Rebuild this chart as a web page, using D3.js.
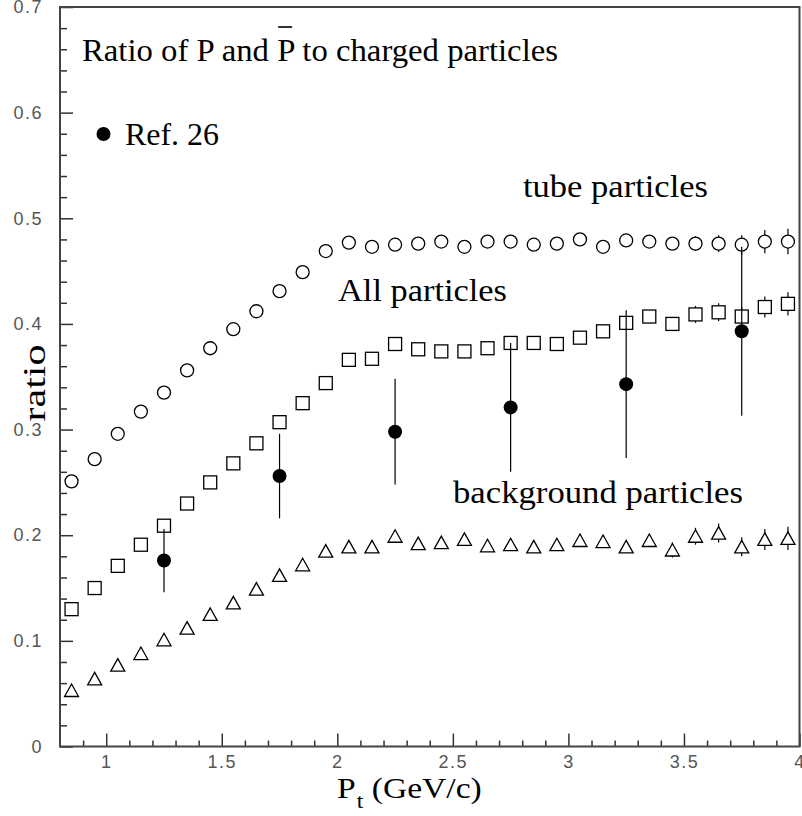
<!DOCTYPE html>
<html>
<head>
<meta charset="utf-8">
<script src="https://cdn.jsdelivr.net/npm/d3@7"></script>
<style>
  body { margin: 0; background: #fff; }
  svg { display: block; }
</style>
</head>
<body>
<div id="vis"></div>
<script>
// bin centres in Pt (GeV/c)
const ptBins = [0.85, 0.95, 1.05, 1.15, 1.25, 1.35, 1.45, 1.55, 1.65, 1.75, 1.85, 1.95,
  2.05, 2.15, 2.25, 2.35, 2.45, 2.55, 2.65, 2.75, 2.85, 2.95, 3.05, 3.15,
  3.25, 3.35, 3.45, 3.55, 3.65, 3.75, 3.85, 3.95];

// tube particles (open circles)
const tubeRatio = [0.251, 0.272, 0.296, 0.317, 0.335, 0.356, 0.377, 0.395, 0.412, 0.431, 0.449, 0.469,
  0.477, 0.473, 0.475, 0.476, 0.478, 0.473, 0.478, 0.478, 0.475, 0.476, 0.480, 0.473,
  0.479, 0.478, 0.476, 0.476, 0.476, 0.475, 0.478, 0.478];
const tubeErr = [0.002, 0.002, 0.002, 0.002, 0.002, 0.003, 0.003, 0.003, 0.003, 0.003, 0.003, 0.003,
  0.003, 0.004, 0.004, 0.004, 0.004, 0.004, 0.004, 0.005, 0.005, 0.005, 0.005, 0.005,
  0.006, 0.006, 0.006, 0.007, 0.008, 0.009, 0.011, 0.012];

// all particles (open squares)
const allRatio = [0.130, 0.150, 0.171, 0.191, 0.209, 0.230, 0.250, 0.268, 0.287, 0.307, 0.325, 0.344,
  0.366, 0.367, 0.381, 0.376, 0.374, 0.374, 0.377, 0.382, 0.382, 0.381, 0.387, 0.393,
  0.401, 0.407, 0.400, 0.409, 0.411, 0.407, 0.416, 0.419];
const allErr = [0.002, 0.002, 0.002, 0.002, 0.002, 0.002, 0.003, 0.003, 0.003, 0.003, 0.003, 0.003,
  0.003, 0.003, 0.004, 0.004, 0.004, 0.004, 0.004, 0.004, 0.005, 0.005, 0.005, 0.005,
  0.006, 0.006, 0.006, 0.008, 0.0085, 0.009, 0.010, 0.011];

// background particles (open triangles)
const bkgRatio = [0.053, 0.064, 0.077, 0.088, 0.101, 0.112, 0.125, 0.136, 0.149, 0.162, 0.172, 0.185,
  0.189, 0.189, 0.199, 0.192, 0.193, 0.196, 0.190, 0.191, 0.189, 0.191, 0.195, 0.194,
  0.189, 0.195, 0.186, 0.199, 0.202, 0.189, 0.196, 0.197];
const bkgErr = [0.001, 0.001, 0.001, 0.001, 0.002, 0.002, 0.002, 0.002, 0.002, 0.002, 0.003, 0.003,
  0.003, 0.003, 0.003, 0.003, 0.004, 0.004, 0.004, 0.004, 0.004, 0.004, 0.005, 0.005,
  0.005, 0.005, 0.007, 0.008, 0.009, 0.009, 0.010, 0.011];

// Ref. 26 (filled circles)
const refPt = [1.25, 1.75, 2.25, 2.75, 3.25, 3.75];
const refRatio = [0.176, 0.256, 0.298, 0.321, 0.343, 0.393];
const refErr = [0.030, 0.040, 0.050, 0.061, 0.070, 0.080];

const xMajor = [1, 1.5, 2, 2.5, 3, 3.5, 4];
const yMajor = [0, 0.1, 0.2, 0.3, 0.4, 0.5, 0.6, 0.7];

const W = 802, H = 816;
const plot = { left: 60, right: 799.5, top: 7, bottom: 746.5 };

const svg = d3.select('#vis').append('svg')
  .attr('width', W).attr('height', H)
  .attr('viewBox', [0, 0, W, H].join(' '));

const x = d3.scaleLinear().domain([0.8, 4]).range([plot.left, plot.right]);
const y = d3.scaleLinear().domain([0, 0.7]).range([plot.bottom, plot.top]);

const serif = '"Liberation Serif", "Times New Roman", Times, serif';
const sans = '"Liberation Sans", Arial, Helvetica, sans-serif';

// minor ticks
const xMinor = d3.range(0.9, 4.0, 0.1).filter(v => xMajor.every(m => Math.abs(m - v) > 1e-6));
const yMinor = d3.range(0.02, 0.7, 0.02).filter(v => yMajor.every(m => Math.abs(m - v) > 1e-6));

function styleAxis(g) {
  g.select('.domain').remove();
  g.selectAll('.tick line').attr('stroke', '#333').attr('stroke-width', 1.5);
  g.selectAll('.tick text')
    .attr('fill', '#555')
    .style('font-family', sans)
    .style('font-size', '18px')
    .style('letter-spacing', '1.5px');
}

svg.append('g')
  .attr('transform', `translate(0,${plot.bottom})`)
  .call(d3.axisBottom(x).tickValues(xMinor).tickSize(-6).tickSizeOuter(0).tickFormat(''))
  .call(styleAxis);
svg.append('g')
  .attr('transform', `translate(0,${plot.bottom})`)
  .call(d3.axisBottom(x).tickValues(xMajor).tickSize(-13).tickSizeOuter(0).tickPadding(9)
    .tickFormat(d3.format('')))
  .call(styleAxis);

svg.append('g')
  .attr('transform', `translate(${plot.left},0)`)
  .call(d3.axisLeft(y).tickValues(yMinor).tickSize(-7).tickSizeOuter(0).tickFormat(''))
  .call(styleAxis);
svg.append('g')
  .attr('transform', `translate(${plot.left},0)`)
  .call(d3.axisLeft(y).tickValues(yMajor).tickSize(-13).tickSizeOuter(0).tickPadding(17)
    .tickFormat(d => d === 0 ? '0' : d3.format('.1f')(d)))
  .call(styleAxis);

// frame
svg.append('rect')
  .attr('x', plot.left).attr('y', plot.top)
  .attr('width', plot.right - plot.left).attr('height', plot.bottom - plot.top)
  .attr('fill', 'none').attr('stroke', '#444').attr('stroke-width', 2);

// error bars for open markers: drawn outside the marker only
function openErrors(xs, vals, errs, half) {
  const g = svg.append('g').attr('stroke', '#000').attr('stroke-width', 1.2);
  xs.forEach((p, i) => {
    const cx = x(p), cy = y(vals[i]);
    const yHi = y(vals[i] + errs[i]), yLo = y(vals[i] - errs[i]);
    if (cy - half > yHi) g.append('line').attr('x1', cx).attr('x2', cx).attr('y1', yHi).attr('y2', cy - half);
    if (yLo > cy + half) g.append('line').attr('x1', cx).attr('x2', cx).attr('y1', cy + half).attr('y2', yLo);
  });
}

openErrors(ptBins, tubeRatio, tubeErr, 6.5);
openErrors(ptBins, allRatio, allErr, 6.5);
openErrors(ptBins, bkgRatio, bkgErr, 6);

// tube: open circles
svg.append('g').selectAll('circle')
  .data(ptBins)
  .join('circle')
  .attr('cx', d => x(d))
  .attr('cy', (d, i) => y(tubeRatio[i]))
  .attr('r', 6.5)
  .attr('fill', 'none').attr('stroke', '#000').attr('stroke-width', 1.3);

// all: open squares
svg.append('g').selectAll('rect')
  .data(ptBins)
  .join('rect')
  .attr('x', d => x(d) - 6.5)
  .attr('y', (d, i) => y(allRatio[i]) - 6.5)
  .attr('width', 13).attr('height', 13)
  .attr('fill', 'none').attr('stroke', '#000').attr('stroke-width', 1.3);

// background: open triangles
svg.append('g').selectAll('path')
  .data(ptBins)
  .join('path')
  .attr('transform', (d, i) => `translate(${x(d)},${y(bkgRatio[i])})`)
  .attr('d', 'M0,-6.5L7,6L-7,6Z')
  .attr('fill', 'none').attr('stroke', '#000').attr('stroke-width', 1.3);

// Ref. 26: filled circles with full error bars
const ref = svg.append('g');
ref.selectAll('line')
  .data(refPt)
  .join('line')
  .attr('x1', d => x(d)).attr('x2', d => x(d))
  .attr('y1', (d, i) => y(refRatio[i] + refErr[i]))
  .attr('y2', (d, i) => y(refRatio[i] - refErr[i]))
  .attr('stroke', '#000').attr('stroke-width', 1.2);
ref.selectAll('circle')
  .data(refPt)
  .join('circle')
  .attr('cx', d => x(d))
  .attr('cy', (d, i) => y(refRatio[i]))
  .attr('r', 7)
  .attr('fill', '#000');

// texts
function label(txt, tx, ty, len, size) {
  return svg.append('text')
    .attr('x', tx).attr('y', ty)
    .attr('textLength', len).attr('lengthAdjust', 'spacingAndGlyphs')
    .style('font-family', serif).style('font-size', size + 'px')
    .attr('fill', '#000')
    .text(txt);
}

const title = label('Ratio of P and P to charged particles', 82, 61, 476, 32);
// overline on the second P
const pBox = title.node().getExtentOfChar(15);
svg.append('line')
  .attr('x1', pBox.x + 1).attr('x2', pBox.x + pBox.width - 2)
  .attr('y1', 27).attr('y2', 27)
  .attr('stroke', '#000').attr('stroke-width', 1.6);

svg.append('circle').attr('cx', 103.5).attr('cy', 134).attr('r', 7).attr('fill', '#000');
label('Ref. 26', 125, 145, 94, 32);

label('tube particles', 523, 197, 185, 32);
label('All particles', 338, 301, 169, 32);
label('background particles', 453, 503, 290, 32);

// y axis title
svg.append('text')
  .attr('transform', 'translate(45,383) rotate(-90)')
  .attr('text-anchor', 'middle')
  .attr('textLength', 77).attr('lengthAdjust', 'spacingAndGlyphs')
  .style('font-family', serif).style('font-size', '31px')
  .text('ratio');

// x axis title  P_t (GeV/c)
const xt = svg.append('text')
  .attr('transform', 'translate(337,798) scale(1.12,1)')
  .style('font-family', serif).style('font-size', '30px');
xt.append('tspan').text('P');
xt.append('tspan').attr('dy', 10).attr('dx', 1).style('font-size', '21px').text('t');
xt.append('tspan').attr('dy', -10).text(' (GeV/c)');
</script>
</body>
</html>
